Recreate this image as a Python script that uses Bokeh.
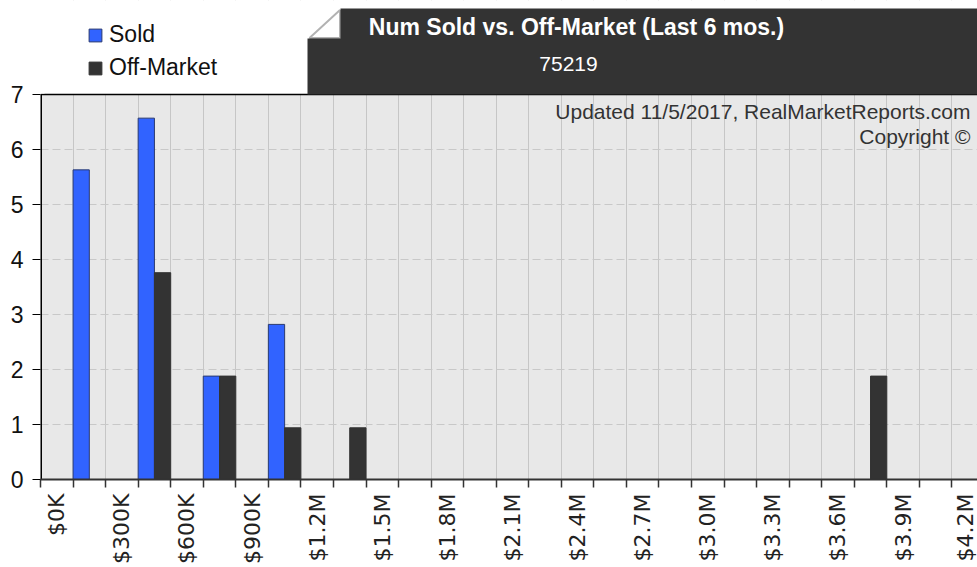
import numpy as np
from bokeh.plotting import figure
from bokeh.models import (ColumnDataSource, Range1d, FixedTicker, Span, Label,
                          PolyAnnotation, BoxAnnotation, Legend, LegendItem)
from bokeh.transform import dodge
from bokeh.embed import file_html
from bokeh.resources import INLINE

# ---- data -------------------------------------------------------------
# price bins, $150K wide, starting at $0K (bin index 0..28)
bin_start_k = [i * 150 for i in range(29)]
sold = [0, 5.63, 0, 6.57, 0, 1.88, 0, 2.82, 0, 0,
        0, 0, 0, 0, 0, 0, 0, 0, 0, 0,
        0, 0, 0, 0, 0, 0, 0, 0, 0]
off_market = [0, 0, 0, 3.76, 0, 1.88, 0, 0.94, 0, 0.94,
              0, 0, 0, 0, 0, 0, 0, 0, 0, 0,
              0, 0, 0, 0, 0, 1.88, 0, 0, 0]
tick_labels = ["$0K", "$300K", "$600K", "$900K", "$1.2M", "$1.5M", "$1.8M",
               "$2.1M", "$2.4M", "$2.7M", "$3.0M", "$3.3M", "$3.6M",
               "$3.9M", "$4.2M"]
y_ticks = [0, 1, 2, 3, 4, 5, 6, 7]
title_text = "Num Sold vs. Off-Market (Last 6 mos.)"
subtitle_text = "75219"

# ---- derived ----------------------------------------------------------
n_bins = len(bin_start_k)
centers = np.arange(n_bins) + 0.5
sold_idx = [i for i, v in enumerate(sold) if v > 0]
off_idx = [i for i, v in enumerate(off_market) if v > 0]
src_sold = ColumnDataSource(dict(x=centers[sold_idx], top=[sold[i] for i in sold_idx]))
src_off = ColumnDataSource(dict(x=centers[off_idx], top=[off_market[i] for i in off_idx]))

W, H = 977, 567
FL, FB = 40, 88                  # left / bottom borders
FRAME_BOTTOM = H - FB            # page y of value 0
PX_PER_UNIT = 55.0
Y_MAX = 7
Y_TOP = FRAME_BOTTOM / PX_PER_UNIT   # frame reaches the page top; header drawn inside

p = figure(width=W, height=H, output_backend="svg", toolbar_location=None,
           x_range=Range1d(0, (W - FL) / 32.55), y_range=Range1d(0, Y_TOP),
           min_border_left=FL, min_border_right=0, min_border_top=0,
           min_border_bottom=FB)
p.background_fill_color = "white"
p.border_fill_color = "white"
p.outline_line_color = None

BLUE = "#3163ff"
DARK = "#333333"

# grey plotting area (values 0..7), drawn beneath the grid
p.add_layout(BoxAnnotation(bottom=0, top=Y_MAX, fill_color="#e8e8e8", fill_alpha=1,
                           line_color=None, level="image"))
# white header zone above the value axis, hiding the grid lines there
p.add_layout(BoxAnnotation(bottom=Y_MAX, fill_color="white", fill_alpha=1,
                           line_color=None, level="glyph"))

r_sold = p.vbar(x=dodge("x", -0.25, range=p.x_range), top="top", width=0.5,
                source=src_sold, fill_color=BLUE, line_color="#2a3a70", line_width=1)
r_off = p.vbar(x=dodge("x", 0.25, range=p.x_range), top="top", width=0.5,
               source=src_off, fill_color=DARK, line_color=DARK, line_width=1)

# value-axis rule only from 0 to 7 (the axis' own rule is hidden)
p.segment(x0=[0], y0=[0], x1=[0], y1=[Y_MAX], line_color="black", line_width=3)

# x axis: labels at every second bin centre, ticks at bin edges
label_pos = [float(centers[2 * k]) for k in range(len(tick_labels))]
p.xaxis.ticker = FixedTicker(ticks=label_pos, minor_ticks=list(range(n_bins + 1)))
p.xaxis.major_label_overrides = {pos: lab for pos, lab in zip(label_pos, tick_labels)}
p.xaxis.major_label_orientation = np.pi / 2
p.xaxis.major_label_text_font = "DejaVu Sans"
p.xaxis.major_label_text_font_size = "22px"
p.xaxis.major_label_text_color = "#222222"
p.xaxis.major_tick_line_color = None
p.xaxis.major_tick_out = 8
p.xaxis.major_tick_in = 0
p.xaxis.major_label_standoff = 6
p.xaxis.minor_tick_out = 8
p.xaxis.minor_tick_in = 0
p.xaxis.minor_tick_line_color = "#333333"
p.xaxis.minor_tick_line_width = 1.5
p.xaxis.axis_line_color = "#333333"
p.xaxis.axis_line_width = 2

p.yaxis.ticker = FixedTicker(ticks=y_ticks)
p.yaxis.bounds = (0, Y_MAX)
p.yaxis.major_label_text_font = "Liberation Sans"
p.yaxis.major_label_text_font_size = "23px"
p.yaxis.major_label_text_color = "#111111"
p.yaxis.major_tick_out = 8
p.yaxis.major_tick_in = 0
p.yaxis.major_tick_line_color = "black"
p.yaxis.major_label_standoff = 9
p.yaxis.minor_tick_line_color = None
p.yaxis.axis_line_color = None

p.xgrid.ticker = FixedTicker(ticks=list(range(1, n_bins + 1)))
p.xgrid.grid_line_color = "#c6c6c6"
p.xgrid.grid_line_width = 1
p.ygrid.ticker = FixedTicker(ticks=y_ticks[1:-1])
p.ygrid.grid_line_color = "#c8c8c8"
p.ygrid.grid_line_dash = "8 4"

p.add_layout(Span(location=Y_MAX, dimension="width", line_color="black", line_width=1.5))

# helpers: page px -> frame-relative screen units
def sx(cx):
    return cx - FL

def sy(cy):
    return FRAME_BOTTOM - cy

# hide any stray edge line at the frame's left edge above the value area
p.add_layout(PolyAnnotation(
    xs=[sx(36), sx(44), sx(44), sx(36)], ys=[sy(-2), sy(-2), sy(93), sy(93)],
    xs_units="screen", ys_units="screen",
    fill_color="white", fill_alpha=1, line_color=None))

# header box with folded corner
p.add_layout(PolyAnnotation(
    xs=[sx(340), sx(977), sx(977), sx(307), sx(307), sx(340)],
    ys=[sy(8), sy(8), sy(94), sy(94), sy(38), sy(38)],
    xs_units="screen", ys_units="screen",
    fill_color=DARK, fill_alpha=1, line_color=None))
p.add_layout(PolyAnnotation(
    xs=[sx(309), sx(339.5), sx(339.5)], ys=[sy(37.5), sy(9.5), sy(37.5)],
    xs_units="screen", ys_units="screen",
    fill_color="white", fill_alpha=1, line_color="black", line_width=2))

p.add_layout(Label(x=sx(576), y=sy(26), x_units="screen", y_units="screen",
                   text=title_text, text_align="center", text_baseline="alphabetic",
                   text_font="Liberation Sans", text_font_style="bold",
                   text_font_size="23px", text_color="white"))
p.add_layout(Label(x=sx(568), y=sy(63), x_units="screen", y_units="screen",
                   text=subtitle_text, text_align="center", text_baseline="alphabetic",
                   text_font="Liberation Sans", text_font_size="21px", text_color="white"))

p.add_layout(Label(x=sx(970), y=sy(111), x_units="screen", y_units="screen",
                   text="Updated 11/5/2017, RealMarketReports.com", text_align="right",
                   text_baseline="alphabetic", text_font="Liberation Sans",
                   text_font_size="21px", text_color="#333333"))
p.add_layout(Label(x=sx(970), y=sy(136), x_units="screen", y_units="screen",
                   text="Copyright \u00a9", text_align="right",
                   text_baseline="alphabetic", text_font="Liberation Sans",
                   text_font_size="21px", text_color="#333333"))

legend = Legend(items=[LegendItem(label="Sold", renderers=[r_sold]),
                       LegendItem(label="Off-Market", renderers=[r_off])],
                location=(sx(87), sy(81)), orientation="vertical",
                background_fill_alpha=0, border_line_color=None,
                label_text_font="Liberation Sans", label_text_font_size="23px",
                label_text_color="#111111",
                glyph_width=16, glyph_height=16, label_standoff=6,
                spacing=6, padding=0, margin=0)
p.add_layout(legend)

open("out.html", "w").write(file_html(p, INLINE))
